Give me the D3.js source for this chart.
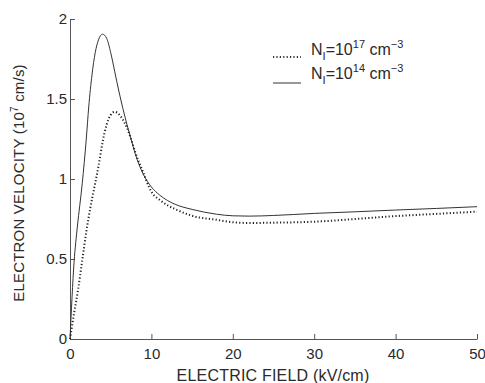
<!DOCTYPE html>
<html>
<head>
<meta charset="utf-8">
<script src="https://cdn.jsdelivr.net/npm/d3@7"></script>
<style>
  html, body { margin: 0; padding: 0; background: #fff; }
  svg { display: block; font-family: "Liberation Sans", Arial, Helvetica, sans-serif; }
</style>
</head>
<body>
<svg id="chart" width="485" height="383"></svg>
<script>
// Electric field (kV/cm) and drift velocity (1e7 cm/s) for two impurity concentrations
const fieldHigh = [0, 0.5, 1.0, 1.5, 2.0, 2.5, 3.0, 3.5, 4.0, 4.5, 5.0, 5.5, 6.0, 6.5, 7.0, 7.5, 8.0, 9.0, 10, 11, 12, 13, 15, 18, 20, 22, 25, 30, 35, 40, 45, 50];
const velHigh =   [0, 0.16, 0.31, 0.49, 0.67, 0.82, 0.95, 1.08, 1.23, 1.34, 1.40, 1.42, 1.405, 1.37, 1.32, 1.25, 1.17, 1.04, 0.92, 0.87, 0.835, 0.81, 0.77, 0.745, 0.73, 0.725, 0.727, 0.733, 0.75, 0.768, 0.782, 0.796];

const fieldLow = [0, 0.5, 0.9, 1.5, 2.0, 2.3, 2.7, 3.1, 3.5, 4.0, 4.5, 5.0, 5.5, 6.0, 6.5, 7.0, 7.5, 8.0, 9.0, 10, 11, 12, 13, 15, 18, 20, 22, 25, 30, 35, 40, 45, 50];
const velLow =   [0, 0.48, 0.70, 0.97, 1.25, 1.45, 1.65, 1.79, 1.87, 1.905, 1.88, 1.79, 1.67, 1.55, 1.44, 1.34, 1.25, 1.16, 1.03, 0.95, 0.90, 0.865, 0.84, 0.81, 0.78, 0.77, 0.768, 0.772, 0.785, 0.795, 0.806, 0.816, 0.827];

const xTicks = [0, 10, 20, 30, 40, 50];
const yTicks = [0, 0.5, 1, 1.5, 2];
const yTickLabels = ["0", "0.5", "1", "1.5", "2"];

const svg = d3.select("#chart");
const ink = "#2a2a2a";
const axisInk = "#555";

const x = d3.scaleLinear().domain([0, 50]).range([70, 477]);
const y = d3.scaleLinear().domain([0, 2]).range([339, 19]);

// axes with inward ticks
const xAxis = svg.append("g").attr("transform", `translate(0,${y(0)})`)
  .call(d3.axisBottom(x).tickValues(xTicks).tickSizeInner(-5).tickSizeOuter(0).tickPadding(9).tickFormat(d3.format("d")));
const yAxis = svg.append("g").attr("transform", `translate(${x(0)},0)`)
  .call(d3.axisLeft(y).tickValues(yTicks).tickSizeInner(-5).tickSizeOuter(0).tickPadding(3)
    .tickFormat((d, i) => yTickLabels[i]));

[xAxis, yAxis].forEach(g => {
  g.select(".domain").attr("stroke", axisInk).attr("stroke-width", 1);
  g.selectAll(".tick line").attr("stroke", axisInk);
  g.selectAll(".tick text").attr("fill", ink).style("font-size", "15px");
});
xAxis.selectAll(".tick text").attr("dy", "0.71em");

// curves
const line = d3.line().x(d => x(d[0])).y(d => y(d[1])).curve(d3.curveMonotoneX);

svg.append("path")
  .datum(fieldLow.map((f, i) => [f, velLow[i]]))
  .attr("d", line)
  .attr("fill", "none")
  .attr("stroke", "#333")
  .attr("stroke-width", 1);

svg.append("path")
  .datum(fieldHigh.map((f, i) => [f, velHigh[i]]))
  .attr("d", line)
  .attr("fill", "none")
  .attr("stroke", "#222")
  .attr("stroke-width", 2)
  .attr("stroke-dasharray", "1.2 2.2");

// axis titles
svg.append("text")
  .attr("x", 273).attr("y", 381)
  .attr("text-anchor", "middle")
  .attr("fill", ink)
  .style("font-size", "16px")
  .style("letter-spacing", "0.2px")
  .text("ELECTRIC FIELD (kV/cm)");

const yTitle = svg.append("text")
  .attr("transform", "translate(24,183) rotate(-90)")
  .attr("text-anchor", "middle")
  .attr("fill", ink)
  .style("font-size", "15px")
  .style("letter-spacing", "0.2px");
yTitle.append("tspan").text("ELECTRON VELOCITY (10");
yTitle.append("tspan").attr("dy", "-6").style("font-size", "10px").text("7");
yTitle.append("tspan").attr("dy", "6").text(" cm/s)");

// legend
const legend = [
  { exp: "17", dash: "1.2 2.2", width: 2, ly: 57, ty: 55 },
  { exp: "14", dash: null, width: 1, ly: 83, ty: 79 }
];
legend.forEach(item => {
  svg.append("line")
    .attr("x1", 273).attr("x2", 301)
    .attr("y1", item.ly).attr("y2", item.ly)
    .attr("stroke", "#333")
    .attr("stroke-width", item.width)
    .attr("stroke-dasharray", item.dash);
  const t = svg.append("text")
    .attr("x", 311).attr("y", item.ty)
    .attr("fill", ink)
    .style("font-size", "16px");
  t.append("tspan").text("N");
  t.append("tspan").attr("dy", "5").style("font-size", "11px").text("I");
  t.append("tspan").attr("dy", "-5").text("=10");
  t.append("tspan").attr("dy", "-7").style("font-size", "11px").text(item.exp);
  t.append("tspan").attr("dy", "7").text(" cm");
  t.append("tspan").attr("dy", "-7").style("font-size", "11px").text("\u22123");
});
</script>
</body>
</html>
